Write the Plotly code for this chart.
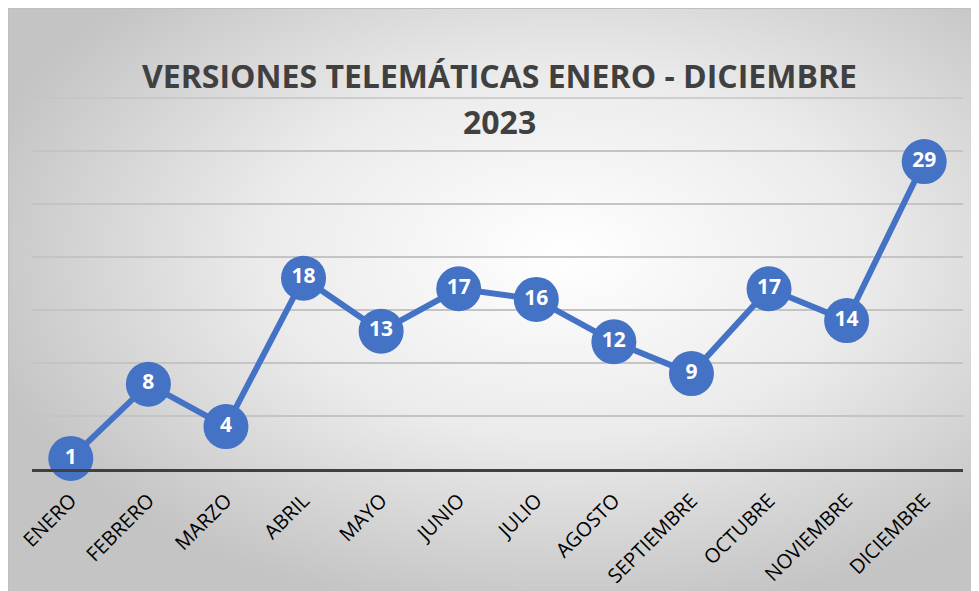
import base64

import plotly.graph_objects as go

months = ["ENERO", "FEBRERO", "MARZO", "ABRIL", "MAYO", "JUNIO", "JULIO",
          "AGOSTO", "SEPTIEMBRE", "OCTUBRE", "NOVIEMBRE", "DICIEMBRE"]
versiones = [1, 8, 4, 18, 13, 17, 16, 12, 9, 17, 14, 29]
title_line1 = "VERSIONES TELEMÁTICAS ENERO - DICIEMBRE"
title_line2 = "2023"

# the page body adds an 8px offset, so the figure is sized to the rest of the window
OFF = 8
W, H = 979 - OFF, 591 - OFF
ML, MT = 32 - OFF, 98 - OFF
pw, ph = 931, 371
MR, MB = W - ML - pw, H - MT - ph


def px_to_paper_x(px):
    return (px - OFF - ML) / pw


def px_to_paper_y(py):
    return (MT + ph - (py - OFF)) / ph


# radial gradient background with a thin border, as an svg data uri
bg_svg = f"""<svg xmlns="http://www.w3.org/2000/svg" width="{W}" height="{H}" viewBox="0 0 {W} {H}">
<defs><radialGradient id="g" cx="0.57" cy="0.42" r="0.62">
<stop offset="0" stop-color="#ffffff"/><stop offset="0.5" stop-color="#ebebeb"/><stop offset="1" stop-color="#c4c4c4"/>
</radialGradient></defs>
<rect x="0" y="0" width="{W + 4}" height="{H + 4}" fill="url(#g)" stroke="#bfbfbf" stroke-width="2"/>
</svg>"""
bg_src = "data:image/svg+xml;base64," + base64.b64encode(bg_svg.encode("utf-8")).decode("ascii")

fig = go.Figure(
    go.Scatter(
        x=months,
        y=versiones,
        mode="lines+markers+text",
        line=dict(color="#4472C4", width=6),
        marker=dict(size=45, color="#4472C4"),
        text=[str(v) for v in versiones],
        textposition="middle center",
        textfont=dict(family="Open Sans", size=21, color="white", weight="bold"),
        cliponaxis=False,
        hoverinfo="x+y",
    )
)

fig.add_layout_image(
    source=bg_src,
    xref="paper", yref="paper",
    x=-ML / pw, y=(MT + ph) / ph,
    sizex=W / pw, sizey=H / ph,
    xanchor="left", yanchor="top",
    sizing="stretch", layer="below",
)

# top gridline sits on the plot edge, plotly skips it
fig.add_shape(type="line", xref="paper", yref="paper", x0=0, x1=1, y0=1, y1=1,
              line=dict(color="#c4c4c4", width=1.5), layer="below")

fig.add_annotation(text=title_line1, xref="paper", yref="paper",
                   x=px_to_paper_x(500), y=px_to_paper_y(52), showarrow=False,
                   font=dict(family="Open Sans", size=32, color="#404040", weight="bold"))
fig.add_annotation(text=title_line2, xref="paper", yref="paper",
                   x=px_to_paper_x(500), y=px_to_paper_y(98), showarrow=False,
                   font=dict(family="Open Sans", size=32, color="#404040", weight="bold"))

fig.update_layout(
    width=W,
    height=H,
    margin=dict(l=ML, r=MR, t=MT, b=MB, autoexpand=False),
    paper_bgcolor="white",
    plot_bgcolor="rgba(0,0,0,0)",
    showlegend=False,
    font=dict(family="Open Sans", color="black"),
)
fig.update_xaxes(
    range=[-0.5, len(months) - 0.5],
    automargin=False,
    tickangle=-45,
    tickfont=dict(size=20, color="black"),
    ticklabelstandoff=9,
    showgrid=False,
    showline=True,
    linecolor="#404040",
    linewidth=3,
    ticks="",
)
fig.update_yaxes(
    range=[0, 35],
    dtick=5,
    automargin=False,
    showticklabels=False,
    gridcolor="#c4c4c4",
    gridwidth=1.5,
    zeroline=False,
)

fig.write_html("out.html")
